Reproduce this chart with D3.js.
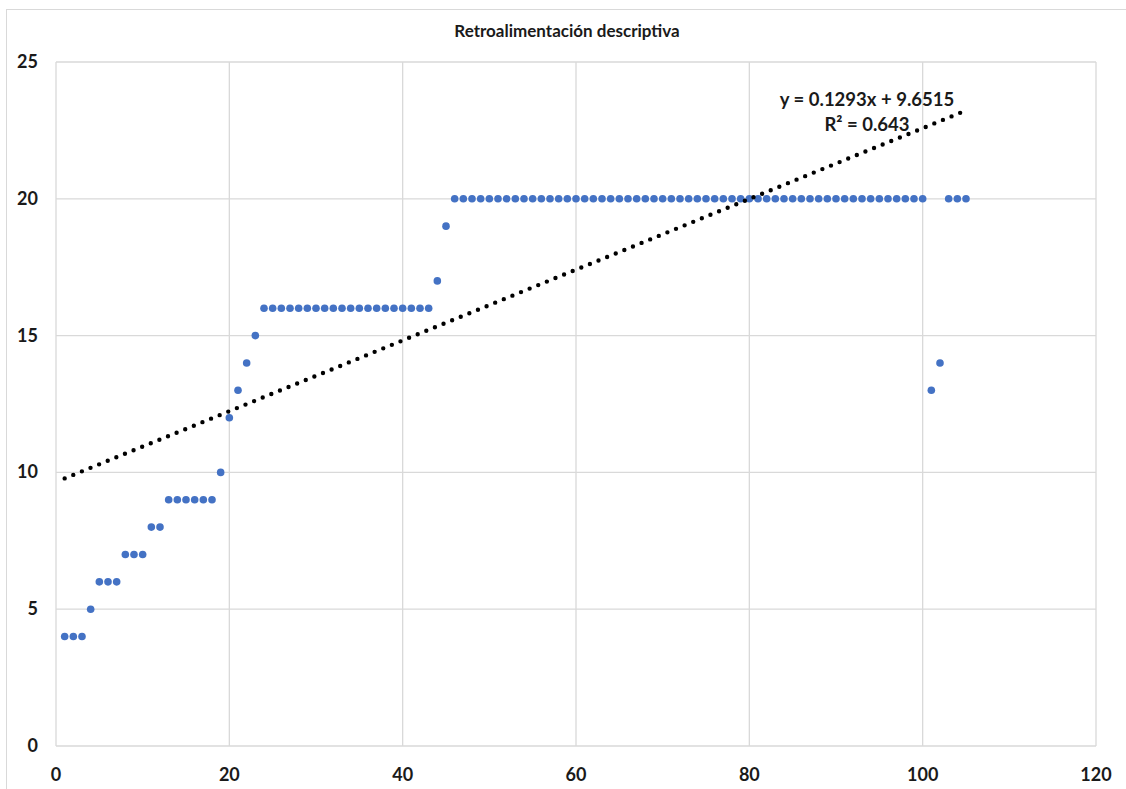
<!DOCTYPE html>
<html>
<head>
<meta charset="utf-8">
<script src="https://cdn.jsdelivr.net/npm/d3@7"></script>
<style>
  body { margin: 0; background: #fff; }
  text { font-family: Lato, "Open Sans", sans-serif; }
</style>
</head>
<body>
<script>
// data: (x, y) pairs
var xValues = [1,2,3,4,5,6,7,8,9,10,11,12,13,14,15,16,17,18,19,20,
  21,22,23,24,25,26,27,28,29,30,31,32,33,34,35,36,37,38,39,40,
  41,42,43,44,45,46,47,48,49,50,51,52,53,54,55,56,57,58,59,60,
  61,62,63,64,65,66,67,68,69,70,71,72,73,74,75,76,77,78,79,80,
  81,82,83,84,85,86,87,88,89,90,91,92,93,94,95,96,97,98,99,100,
  101,102,103,104,105];
var yValues = [4,4,4,5,6,6,6,7,7,7,8,8,9,9,9,9,9,9,10,12,
  13,14,15,16,16,16,16,16,16,16,16,16,16,16,16,16,16,16,16,16,
  16,16,16,17,19,20,20,20,20,20,20,20,20,20,20,20,20,20,20,20,
  20,20,20,20,20,20,20,20,20,20,20,20,20,20,20,20,20,20,20,20,
  20,20,20,20,20,20,20,20,20,20,20,20,20,20,20,20,20,20,20,20,
  13,14,20,20,20];
var xTicks = [0,20,40,60,80,100,120];
var yTicks = [0,5,10,15,20,25];
var trendSlope = 0.1293, trendIntercept = 9.6515;
var trendLabel = "y = 0.1293x + 9.6515";
var r2Label = "R² = 0.643";
var chartTitle = "Retroalimentación descriptiva";

var W = 1126, H = 789;
var svg = d3.select("body").append("svg")
        .attr("width", W)
        .attr("height", H);

// outer chart border
svg.append("rect")
        .attr("x", 6.5).attr("y", 9.5)
        .attr("width", W).attr("height", H)
        .attr("fill", "none")
        .attr("stroke", "#d9d9d9");

var x = d3.scaleLinear().domain([0,120]).range([56,1096]);
var y = d3.scaleLinear().domain([0,25]).range([746,62]);

// gridlines
svg.append("g").selectAll("line")
        .data(xTicks)
        .enter().append("line")
                .attr("x1", function(d){ return x(d); })
                .attr("x2", function(d){ return x(d); })
                .attr("y1", y(0)).attr("y2", y(25))
                .attr("stroke", "#d9d9d9").attr("stroke-width", 1.3);
svg.append("g").selectAll("line")
        .data(yTicks)
        .enter().append("line")
                .attr("y1", function(d){ return y(d); })
                .attr("y2", function(d){ return y(d); })
                .attr("x1", x(0)).attr("x2", x(120))
                .attr("stroke", "#d9d9d9").attr("stroke-width", 1.3);

// tick labels
svg.append("g").selectAll("text")
        .data(xTicks)
        .enter().append("text")
                .attr("x", function(d){ return x(d); })
                .attr("y", 781)
                .attr("text-anchor", "middle")
                .attr("font-size", 18).attr("font-weight", "bold")
                .attr("fill", "#1a1a1a")
                .text(function(d){ return d; });
svg.append("g").selectAll("text")
        .data(yTicks)
        .enter().append("text")
                .attr("x", 38)
                .attr("y", function(d){ return y(d) + 6; })
                .attr("text-anchor", "end")
                .attr("font-size", 18).attr("font-weight", "bold")
                .attr("fill", "#1a1a1a")
                .text(function(d){ return d; });

// points
var pts = d3.zip(xValues, yValues);
svg.append("g").selectAll("circle")
        .data(pts)
        .enter().append("circle")
                .attr("cx", function(d){ return x(d[0]); })
                .attr("cy", function(d){ return y(d[1]); })
                .attr("r", 3.8)
                .attr("fill", "#4472c4");

// linear trendline, dotted
var tx = [d3.min(xValues), d3.max(xValues)];
svg.append("line")
        .attr("x1", x(tx[0])).attr("y1", y(trendSlope*tx[0] + trendIntercept))
        .attr("x2", x(tx[1])).attr("y2", y(trendSlope*tx[1] + trendIntercept))
        .attr("stroke", "#000").attr("stroke-width", 4.4)
        .attr("stroke-linecap", "round")
        .attr("stroke-dasharray", "0 9.3");

// trend equation
svg.append("text")
        .attr("x", 867).attr("y", 106)
        .attr("text-anchor", "middle")
        .attr("font-size", 18.5).attr("font-weight", "bold")
        .attr("fill", "#1a1a1a")
        .text(trendLabel);
svg.append("text")
        .attr("x", 867).attr("y", 131)
        .attr("text-anchor", "middle")
        .attr("font-size", 18.5).attr("font-weight", "bold")
        .attr("fill", "#1a1a1a")
        .text(r2Label);

// title
svg.append("text")
        .attr("x", 567).attr("y", 37)
        .attr("text-anchor", "middle")
        .attr("font-size", 17).attr("font-weight", "bold")
        .attr("fill", "#1a1a1a")
        .text(chartTitle);
</script>
</body>
</html>
